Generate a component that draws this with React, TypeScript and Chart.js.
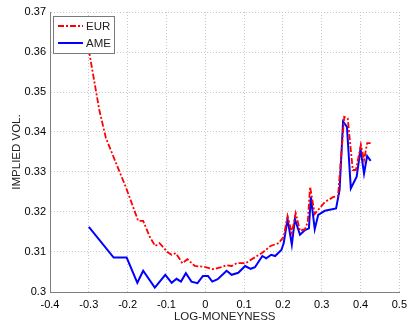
import React, { useEffect, useRef } from "react";
import { Chart, registerables } from "chart.js";

Chart.register(...registerables);

const eurX = [-0.3, -0.273, -0.256, -0.226, -0.205, -0.186, -0.173, -0.16, -0.143, -0.129, -0.118, -0.108, -0.099, -0.087, -0.076, -0.059, -0.046, -0.027, -0.002, 0.02, 0.041, 0.055, 0.068, 0.081, 0.104, 0.13, 0.147, 0.168, 0.189, 0.202, 0.212, 0.223, 0.233, 0.244, 0.257, 0.264, 0.27, 0.282, 0.308, 0.329, 0.342, 0.358, 0.367, 0.38, 0.388, 0.401, 0.409, 0.417, 0.426];
const eurY = [0.3605, 0.3455, 0.3385, 0.3313, 0.3263, 0.3213, 0.3178, 0.3178, 0.3138, 0.3115, 0.3122, 0.3112, 0.3101, 0.3093, 0.3097, 0.3072, 0.3082, 0.3065, 0.3063, 0.3057, 0.3062, 0.3067, 0.3065, 0.3072, 0.3072, 0.3088, 0.3098, 0.3115, 0.3122, 0.3138, 0.319, 0.3148, 0.3197, 0.3153, 0.3157, 0.3175, 0.3263, 0.3195, 0.3225, 0.3237, 0.324, 0.3438, 0.3434, 0.3305, 0.3305, 0.3368, 0.333, 0.3372, 0.3372];

const ameX = [-0.3, -0.236, -0.2025, -0.175, -0.16, -0.13, -0.103, -0.0865, -0.074, -0.0626, -0.05, -0.0356, -0.02, -0.006, 0.007, 0.018, 0.032, 0.055, 0.068, 0.085, 0.1027, 0.117, 0.128, 0.147, 0.157, 0.17, 0.18, 0.196, 0.202, 0.212, 0.223, 0.231, 0.244, 0.257, 0.267, 0.272, 0.282, 0.291, 0.308, 0.337, 0.346, 0.355, 0.365, 0.375, 0.39, 0.4, 0.409, 0.417, 0.426];
const ameY = [0.3163, 0.3086, 0.3086, 0.3023, 0.3053, 0.3011, 0.3043, 0.3023, 0.3033, 0.3026, 0.3047, 0.3026, 0.3022, 0.304, 0.304, 0.3026, 0.3032, 0.3053, 0.3043, 0.3048, 0.3065, 0.3058, 0.3062, 0.309, 0.3084, 0.3093, 0.309, 0.3105, 0.3122, 0.3182, 0.3118, 0.3182, 0.3143, 0.3155, 0.3159, 0.3238, 0.3157, 0.3193, 0.3203, 0.3209, 0.3255, 0.3426, 0.3413, 0.3259, 0.3288, 0.3358, 0.3296, 0.334, 0.3328];

const seriesNames = ["EUR", "AME"];
const xTitle = "LOG-MONEYNESS";
const yTitle = "IMPLIED VOL.";

const FONT = "'Liberation Sans', Arial, Helvetica, sans-serif";

const legendPlugin = {
  id: "insideLegend",
  afterDatasetsDraw(chart: any) {
    const { ctx, chartArea } = chart;
    const x0 = chartArea.left + 3;
    const y0 = chartArea.top + 4;
    const w = 61;
    const h = 37;
    ctx.save();
    ctx.fillStyle = "#ffffff";
    ctx.fillRect(x0, y0, w, h);
    ctx.strokeStyle = "#7a7a7a";
    ctx.lineWidth = 1;
    ctx.strokeRect(x0 + 0.5, y0 + 0.5, w, h);
    const items = chart.data.datasets;
    items.forEach((ds: any, i: number) => {
      const ly = y0 + 10 + i * 17;
      ctx.beginPath();
      ctx.strokeStyle = ds.borderColor;
      ctx.lineWidth = 2;
      ctx.setLineDash(ds.borderDash || []);
      ctx.moveTo(x0 + 5, ly);
      ctx.lineTo(x0 + 30, ly);
      ctx.stroke();
      ctx.setLineDash([]);
      ctx.fillStyle = "#222";
      ctx.font = `11.5px ${FONT}`;
      ctx.textBaseline = "middle";
      ctx.textAlign = "left";
      ctx.fillText(ds.label, x0 + 33, ly + 1);
    });
    ctx.restore();
  },
};

const fmt = (v: number) => {
  const r = Math.round(v * 100) / 100;
  return String(r);
};

export default function App() {
  const ref = useRef<HTMLCanvasElement | null>(null);
  useEffect(() => {
    if (!ref.current) return;
    const chart = new Chart(ref.current, {
      type: "line",
      data: {
        datasets: [
          {
            label: seriesNames[0],
            data: eurX.map((x, i) => ({ x, y: eurY[i] })),
            borderColor: "#ff0000",
            borderWidth: 1.8,
            borderDash: [6, 2, 2, 2],
            pointRadius: 0,
            fill: false,
            tension: 0,
          },
          {
            label: seriesNames[1],
            data: ameX.map((x, i) => ({ x, y: ameY[i] })),
            borderColor: "#0000ff",
            borderWidth: 2,
            pointRadius: 0,
            fill: false,
            tension: 0,
          },
        ],
      },
      options: {
        animation: false,
        responsive: true,
        maintainAspectRatio: false,
        layout: { padding: { left: 0, top: 12, right: 9, bottom: 0 } },
        plugins: { legend: { display: false }, tooltip: { enabled: false } },
        scales: {
          x: {
            type: "linear",
            min: -0.4,
            max: 0.5,
            ticks: {
              stepSize: 0.1,
              callback: (v: any) => fmt(Number(v)),
              color: "#000",
              font: { family: FONT, size: 11 },
              padding: 6,
              maxRotation: 0,
              autoSkip: false,
            },
            grid: { color: "#c8c8c8", drawTicks: false, lineWidth: 1 },
            border: { display: true, color: "#808080", width: 1, dash: [1, 2] },
            title: {
              display: true,
              text: xTitle,
              color: "#222",
              font: { family: FONT, size: 11.5 },
              padding: { top: 0, bottom: -1 },
            },
            afterFit: (s: any) => {
              s.height = 31;
            },
          },
          y: {
            type: "linear",
            min: 0.3,
            max: 0.37,
            ticks: {
              stepSize: 0.01,
              callback: (v: any) => fmt(Number(v)),
              color: "#000",
              font: { family: FONT, size: 11 },
              padding: 4,
            },
            grid: { color: "#c8c8c8", drawTicks: false, lineWidth: 1 },
            border: { display: true, color: "#808080", width: 1, dash: [1, 2] },
            title: {
              display: true,
              text: yTitle,
              color: "#222",
              font: { family: FONT, size: 11.5 },
              padding: { top: 10, bottom: 0 },
            },
            afterFit: (s: any) => {
              s.width = 50;
            },
          },
        },
      },
      plugins: [legendPlugin],
    });
    return () => chart.destroy();
  }, []);
  return (
    <div style={{ position: "fixed", left: 0, top: 0, width: 413, height: 323, background: "#fff" }}>
      <canvas ref={ref} />
    </div>
  );
}
